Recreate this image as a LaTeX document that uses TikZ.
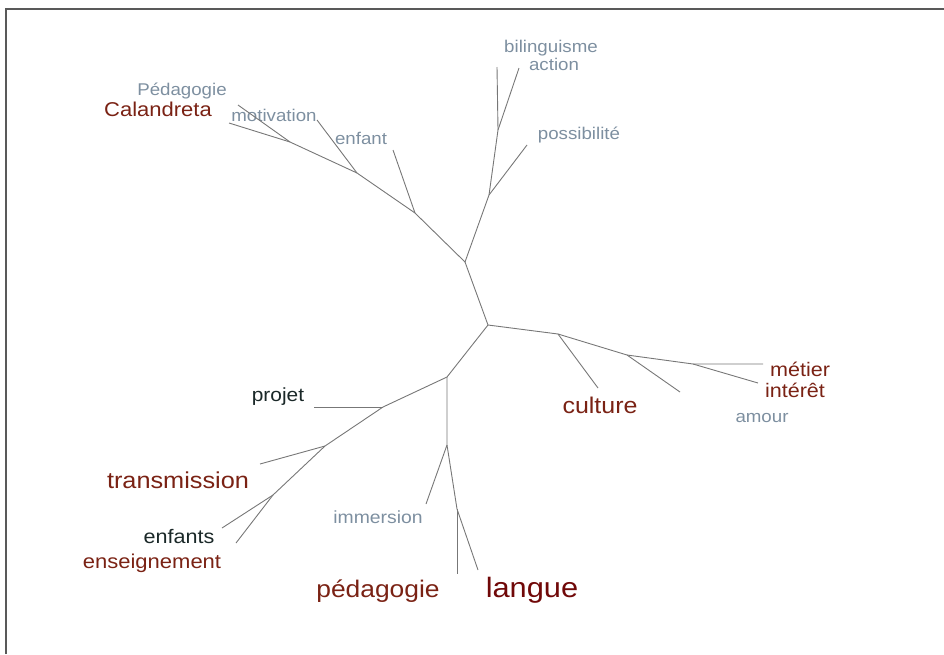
\documentclass[tikz,border=0pt]{standalone}
\usepackage{fontspec}
\setmainfont[FakeStretch=1.1]{Liberation Sans}
\definecolor{wordgray}{HTML}{7D8FA0}
\definecolor{wordred}{HTML}{7A2214}
\definecolor{worddark}{HTML}{700808}
\definecolor{wordblack}{HTML}{1A2828}
\definecolor{branchgray}{HTML}{777777}
\begin{document}
\begin{tikzpicture}[x=1pt, y=-1pt,
		gw/.style = {anchor=base, inner sep=0pt, text=wordgray},
		rw/.style = {anchor=base, inner sep=0pt, text=wordred},
		kw/.style = {anchor=base, inner sep=0pt, text=wordblack},
		br/.style = {draw=branchgray, line width=0.9pt},
		fr/.style = {draw=black!65, line width=1.6pt}
		]
		\useasboundingbox (0,0) rectangle (944,654);
		\draw[fr] (6,654) -- (6,9) -- (944,9);
		
		% === === Nodes === ===
		\node[gw, font=\fontsize{17}{20}\selectfont]	(bilin)	at	(551, 52)	{bilinguisme};
		\node[gw, font=\fontsize{17}{20}\selectfont]	(action)	at	(554, 70)	{action};
		\node[gw, font=\fontsize{17}{20}\selectfont]	(possib)	at	(579, 139)	{possibilité};
		\node[gw, font=\fontsize{17}{20}\selectfont]	(pedag-g)	at	(182, 95)	{Pédagogie};
		\node[rw, font=\fontsize{20}{24}\selectfont]	(calan)	at	(158, 116)	{Calandreta};
		\node[gw, font=\fontsize{17}{20}\selectfont]	(motiv)	at	(274, 121)	{motivation};
		\node[gw, font=\fontsize{17}{20}\selectfont]	(enfant)	at	(361, 144)	{enfant};
		
		\node[rw, font=\fontsize{19.6}{24}\selectfont]	(metier)	at	(800, 376)	{métier};
		\node[rw, font=\fontsize{19.6}{24}\selectfont]	(interet)	at	(795, 397)	{intérêt};
		\node[gw, font=\fontsize{17}{20}\selectfont]	(amour)	at	(762, 422)	{amour};
		\node[rw, font=\fontsize{22.7}{26}\selectfont]	(culture)	at	(600, 413)	{culture};
		
		\node[kw, font=\fontsize{19}{23}\selectfont]	(projet)	at	(278, 401)	{projet};
		\node[rw, font=\fontsize{23}{27}\selectfont]	(transm)	at	(178, 488)	{transmission};
		\node[kw, font=\fontsize{19.6}{24}\selectfont]	(enfants)	at	(179, 543)	{enfants};
		\node[rw, font=\fontsize{20}{24}\selectfont]	(enseign)	at	(152, 568)	{enseignement};
		\node[gw, font=\fontsize{17.6}{21}\selectfont]	(immers)	at	(378, 523)	{immersion};
		\node[rw, font=\fontsize{24}{28}\selectfont]	(pedag)	at	(378, 597)	{pédagogie};
		\node[rw, font=\fontsize{28}{32}\selectfont, text=worddark]	(langue)	at	(532, 597)	{langue};
		
		% === === Junctions === ===
		\coordinate (t0) at (465, 262);
		\coordinate (b0) at (488, 325);
		
		\coordinate (j1) at (415, 213);
		\coordinate (j2) at (357, 173);
		\coordinate (j3) at (290, 142);
		\coordinate (calan-e)	at (229, 123);
		\coordinate (pedag-g-e)	at (238, 105);
		\coordinate (motiv-e)	at (317, 120);
		\coordinate (enfant-e)	at (393, 150);
		
		\coordinate (r1) at (489, 195);
		\coordinate (r2) at (498, 130);
		\coordinate (bilin-e)	at (497, 67);
		\coordinate (action-e)	at (519, 68);
		\coordinate (possib-e)	at (527, 145);
		
		\coordinate (c1) at (558, 334);
		\coordinate (c2) at (627, 355);
		\coordinate (c3) at (693, 364);
		\coordinate (culture-e)	at (598, 388);
		\coordinate (amour-e)	at (680, 392);
		\coordinate (metier-e)	at (763, 364);
		\coordinate (interet-e)	at (758, 383);
		
		\coordinate (l0) at (447, 377);
		\coordinate (l1) at (383, 407);
		\coordinate (l2) at (325, 446);
		\coordinate (l3) at (273, 495);
		\coordinate (projet-e)	at (314, 407);
		\coordinate (transm-e)	at (260, 464);
		\coordinate (enfants-e)	at (222, 528);
		\coordinate (enseign-e)	at (236, 543);
		
		\coordinate (v1) at (447, 445);
		\coordinate (v2) at (457, 509);
		\coordinate (immers-e)	at (426, 504);
		\coordinate (pedag-e)	at (457, 574);
		\coordinate (langue-e)	at (478, 570);
		
		% === === Lines === ===
		\draw[br]	(t0) to (b0);
		
		\draw[br]	(t0) to (j1) to (j2) to (j3) to (calan-e);
		\draw[br]	(j3) to (pedag-g-e);
		\draw[br]	(j2) to (motiv-e);
		\draw[br]	(j1) to (enfant-e);
		
		\draw[br]	(t0) to (r1) to (r2) to (bilin-e);
		\draw[br]	(r2) to (action-e);
		\draw[br]	(r1) to (possib-e);
		
		\draw[br]	(b0) to (c1) to (c2) to (c3) to (metier-e);
		\draw[br]	(c3) to (interet-e);
		\draw[br]	(c2) to (amour-e);
		\draw[br]	(c1) to (culture-e);
		
		\draw[br]	(b0) to (l0) to (l1) to (l2) to (l3) to (enfants-e);
		\draw[br]	(l3) to (enseign-e);
		\draw[br]	(l2) to (transm-e);
		\draw[br]	(l1) to (projet-e);
		
		\draw[br]	(l0) to (v1) to (v2) to (langue-e);
		\draw[br]	(v2) to (pedag-e);
		\draw[br]	(v1) to (immers-e);
		
	\end{tikzpicture}
\end{document}
